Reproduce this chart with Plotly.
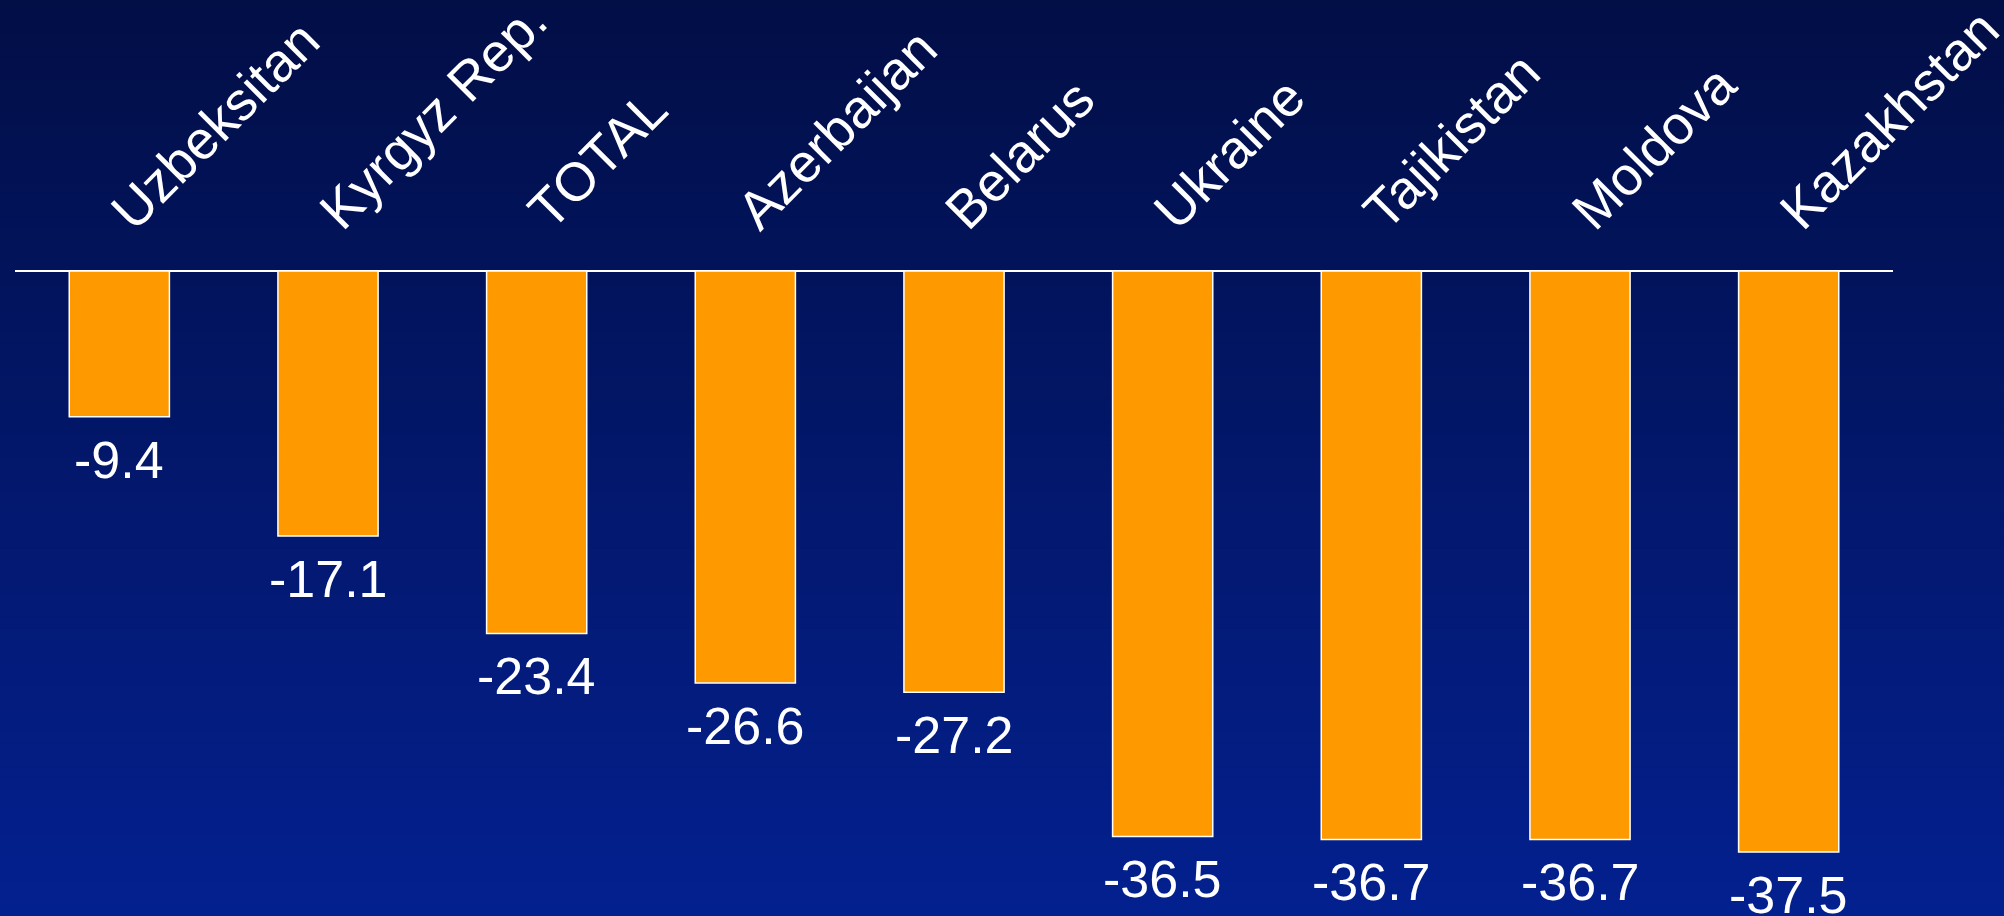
import plotly.graph_objects as go

# Change in value (%) by country
countries = ["Uzbeksitan", "Kyrgyz Rep.", "TOTAL", "Azerbaijan", "Belarus",
             "Ukraine", "Tajikistan", "Moldova", "Kazakhstan"]
changes = [-9.4, -17.1, -23.4, -26.6, -27.2, -36.5, -36.7, -36.7, -37.5]

FONT = "Liberation Sans, Arial, sans-serif"
TOP_RGB = (2, 14, 70)
BOTTOM_RGB = (3, 32, 143)

fig = go.Figure()
fig.add_trace(go.Bar(
    x=countries,
    y=changes,
    width=0.48,
    marker=dict(color="#FF9900", line=dict(color="white", width=1.5)),
    hoverinfo="skip",
))

# vertical gradient background built from thin horizontal bands
shapes = []
n_bands = 80
for i in range(n_bands):
    t = i / (n_bands - 1)
    r, g, b = (round(TOP_RGB[k] + (BOTTOM_RGB[k] - TOP_RGB[k]) * t) for k in range(3))
    shapes.append(dict(
        type="rect", xref="paper", yref="paper", layer="below",
        x0=-0.02, x1=1.1, y1=1 - i / n_bands + 0.001, y0=1 - (i + 1) / n_bands - 0.001,
        fillcolor=f"rgb({r},{g},{b})", line=dict(width=0),
    ))

annotations = []
for c, v in zip(countries, changes):
    # value label below each bar
    annotations.append(dict(
        x=c, y=v, text=f"{v}", showarrow=False,
        xanchor="center", yanchor="middle", yshift=-43,
        font=dict(family=FONT, size=52, color="white"),
    ))
    # slanted category label above the baseline
    annotations.append(dict(
        x=c, y=0, text=c, showarrow=False, textangle=-45,
        xanchor="left", yanchor="bottom", xshift=-23, yshift=28,
        font=dict(family=FONT, size=54, color="white"),
    ))

fig.update_layout(
    width=2004, height=916,
    margin=dict(l=15, r=111, t=0, b=0),
    paper_bgcolor="rgb(2,22,105)",
    plot_bgcolor="rgba(0,0,0,0)",
    showlegend=False,
    shapes=shapes,
    annotations=annotations,
    xaxis=dict(range=[-0.5, 8.5], visible=False, fixedrange=True),
    yaxis=dict(range=[-41.64, 17.5], showgrid=False, showticklabels=False,
               zeroline=True, zerolinecolor="white", zerolinewidth=2,
               fixedrange=True),
)

fig.write_html("out.html", config={"displayModeBar": False})
